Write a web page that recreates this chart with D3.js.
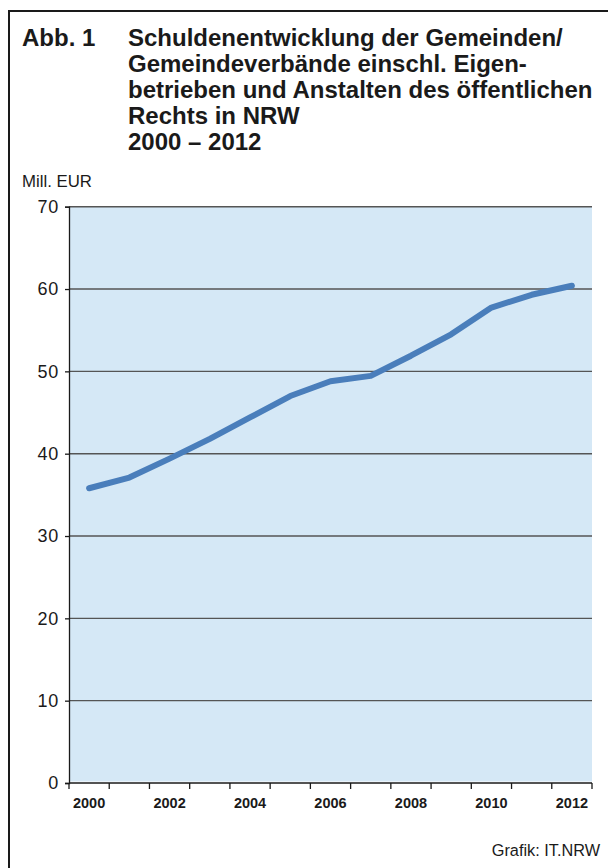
<!DOCTYPE html>
<html><head><meta charset="utf-8">
<script src="https://cdn.jsdelivr.net/npm/d3@7"></script>
<style>
html,body{margin:0;padding:0;background:#fff;}
svg{display:block;font-family:"Liberation Sans",Arial,Helvetica,sans-serif;}
</style></head>
<body>
<svg id="chart" width="608" height="868"></svg>
<script>
const years = [2000,2001,2002,2003,2004,2005,2006,2007,2008,2009,2010,2011,2012];
const debts = [35.8,37.1,39.4,41.8,44.4,47.0,48.8,49.45,51.9,54.5,57.75,59.3,60.4];
const yTicks = [0,10,20,30,40,50,60,70];
const xLabelYears = [2000,2002,2004,2006,2008,2010,2012];
const titleLines = ["Schuldenentwicklung der Gemeinden/","Gemeindeverbände einschl. Eigen-","betrieben und Anstalten des öffentlichen","Rechts in NRW","2000 – 2012"];
const titleLabel = "Abb. 1";
const unitLabel = "Mill. EUR";
const sourceLabel = "Grafik: IT.NRW";

const svg = d3.select("#chart");
const m = {left:69, right:592, top:206.7, bottom:783};
const ink = "#1a1a1a";
const ff = "'Liberation Sans',Arial,sans-serif";

// frame
svg.append("rect").attr("x",9).attr("y",11).attr("width",640).attr("height",900)
  .attr("fill","none").attr("stroke",ink).attr("stroke-width",2);

// title
svg.append("text").attr("x",22).attr("y",46).attr("font-size",24).attr("font-weight","bold")
  .attr("fill",ink).text(titleLabel);
svg.append("g").selectAll("text").data(titleLines).join("text")
  .attr("x",128).attr("y",(d,i)=>46+i*26).attr("font-size",24).attr("font-weight","bold")
  .attr("fill",ink).text(d=>d);
svg.append("text").attr("x",22).attr("y",187).attr("font-size",16.8).attr("fill",ink).text(unitLabel);

const x = d3.scaleBand().domain(years).range([m.left,m.right]);
const y = d3.scaleLinear().domain([0,70]).range([m.bottom,m.top]);

// plot background
svg.append("rect").attr("x",m.left).attr("y",m.top).attr("width",m.right-m.left)
  .attr("height",m.bottom-m.top-1.5).attr("fill","#d5e8f6");

// gridlines
svg.append("g").selectAll("line").data(yTicks.filter(d=>d>0)).join("line")
  .attr("x1",m.left).attr("x2",m.right).attr("y1",d=>y(d)).attr("y2",d=>y(d))
  .attr("stroke","#555").attr("stroke-width",1.4);

// y axis
const yAxis = d3.axisLeft(y).tickValues(yTicks).tickSize(4).tickPadding(6).tickFormat(d3.format("d"));
const gy = svg.append("g").attr("transform",`translate(${m.left},0)`).call(yAxis);
gy.select(".domain").attr("stroke",ink).attr("stroke-width",1.3);
gy.selectAll(".tick line").attr("stroke",ink).attr("stroke-width",1.3);
gy.selectAll(".tick text").attr("font-size",18).attr("fill",ink).attr("font-family",ff)
  .attr("letter-spacing","0.8px");

// x axis: ticks at band boundaries
const boundaries = years.map(d=>x(d)).concat([x(years[years.length-1])+x.bandwidth()]);
svg.append("line").attr("x1",m.left).attr("x2",m.right).attr("y1",m.bottom).attr("y2",m.bottom)
  .attr("stroke",ink).attr("stroke-width",1.3);
svg.append("g").selectAll("line").data(boundaries).join("line")
  .attr("x1",d=>d).attr("x2",d=>d).attr("y1",m.bottom).attr("y2",m.bottom+6)
  .attr("stroke",ink).attr("stroke-width",1.3);
svg.append("g").selectAll("text").data(xLabelYears).join("text")
  .attr("x",d=>x(d)+x.bandwidth()/2).attr("y",m.bottom+25).attr("text-anchor","middle")
  .attr("font-size",14.5).attr("font-weight","bold").attr("fill",ink).text(d=>d);

// line
const line = d3.line().x((d,i)=>x(years[i])+x.bandwidth()/2).y(d=>y(d));
svg.append("path").datum(debts).attr("d",line).attr("fill","none")
  .attr("stroke","#4a7ebb").attr("stroke-width",6).attr("stroke-linecap","round").attr("stroke-linejoin","round");

// source
svg.append("text").attr("x",600).attr("y",856).attr("text-anchor","end").attr("font-size",16.3)
  .attr("fill",ink).text(sourceLabel);
</script>
</body></html>
